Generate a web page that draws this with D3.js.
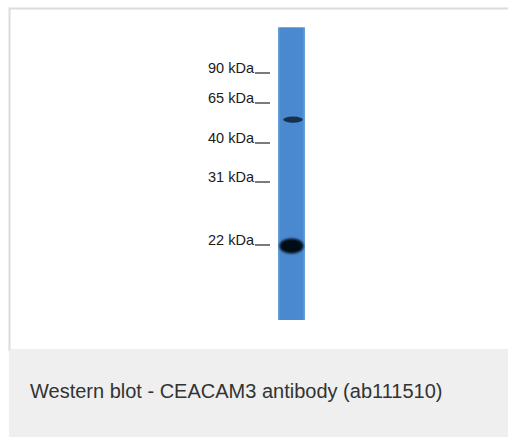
<!DOCTYPE html>
<html>
<head>
<meta charset="utf-8">
<script src="https://cdn.jsdelivr.net/npm/d3@7"></script>
<style>
  body { margin: 0; background: #fff; }
</style>
</head>
<body>
<script>
// marker ladder (kDa) and the label text shown next to each
var markers = [90, 65, 40, 31, 22];
var markerLabels = ["90 kDa", "65 kDa", "40 kDa", "31 kDa", "22 kDa"];
// bands seen in the lane: apparent size (kDa) and relative intensity
var bandKda = [50, 21.3];
var bandIntensity = [0.35, 1];
var caption = "Western blot - CEACAM3 antibody (ab111510)";

var width = 508, height = 437;

var svg = d3.select("body").append("svg")
    .attr("width", width)
    .attr("height", height);

// gel migration is not quite log-linear, so piecewise log scale through the ladder
var y = d3.scaleLog()
    .domain([90, 65, 40, 31, 22, 15])
    .range([68, 98, 138, 177, 240, 310]);

var defs = svg.append("defs");
var grad = defs.append("linearGradient").attr("id", "lane");
grad.append("stop").attr("offset", "0%").attr("stop-color", "#6aa3dc");
grad.append("stop").attr("offset", "10%").attr("stop-color", "#4a88cf");
grad.append("stop").attr("offset", "90%").attr("stop-color", "#4a88cf");
grad.append("stop").attr("offset", "100%").attr("stop-color", "#6aa3dc");

var blur = defs.selectAll("filter")
    .data([1, 0.6])
    .enter().append("filter")
    .attr("id", function (d, i) { return "blur" + i; })
    .attr("x", "-50%").attr("y", "-100%").attr("width", "200%").attr("height", "300%");
blur.append("feGaussianBlur").attr("stdDeviation", function (d) { return d; });

// frame + caption panel
svg.append("rect")
    .attr("x", 9.5).attr("y", 8.5)
    .attr("width", width).attr("height", 342)
    .attr("fill", "#fff").attr("stroke", "#dcdcdc").attr("stroke-width", 2);
svg.append("rect")
    .attr("x", 9).attr("y", 350)
    .attr("width", width).attr("height", height - 350)
    .attr("fill", "#eeefee");
svg.append("text")
    .attr("x", 30).attr("y", 398)
    .attr("font-family", "Liberation Sans, Arial, sans-serif")
    .attr("font-size", 20)
    .attr("fill", "#333")
    .text(caption);

// lane
var laneX = 278, laneW = 27;
svg.append("rect")
    .attr("x", laneX).attr("y", y(140))
    .attr("width", laneW).attr("height", y(14.2) - y(140))
    .attr("fill", "url(#lane)");

// marker labels with trailing tick line
var axis = svg.append("g");
axis.selectAll("text")
    .data(markers)
    .enter().append("text")
    .attr("x", 254)
    .attr("y", function (d) { return y(d) + 5; })
    .attr("text-anchor", "end")
    .attr("font-family", "Liberation Sans, Arial, sans-serif")
    .attr("font-size", 14.5)
    .attr("fill", "#1a1a1a")
    .text(function (d, i) { return markerLabels[i]; });
axis.selectAll("line")
    .data(markers)
    .enter().append("line")
    .attr("x1", 255).attr("x2", 270)
    .attr("y1", function (d) { return y(d) + 5; })
    .attr("y2", function (d) { return y(d) + 5; })
    .attr("stroke", "#333").attr("stroke-width", 1.3);

// bands
var bw = d3.scaleLinear().domain([0, 1]).range([17, 24]);
var bh = d3.scaleLinear().domain([0, 1]).range([1.4, 15]);
svg.selectAll("ellipse.band")
    .data(bandKda)
    .enter().append("ellipse")
    .attr("class", "band")
    .attr("cx", function (d, i) { return laneX + laneW / 2 + (bandIntensity[i] > 0.5 ? 0 : 1.5); })
    .attr("cy", function (d) { return y(d); })
    .attr("rx", function (d, i) { return bw(bandIntensity[i]) / 2; })
    .attr("ry", function (d, i) { return bh(bandIntensity[i]) / 2; })
    .attr("fill", function (d, i) { return bandIntensity[i] > 0.5 ? "#050d14" : "#15304c"; })
    .attr("filter", function (d, i) { return bandIntensity[i] > 0.5 ? "url(#blur0)" : "url(#blur1)"; });
</script>
</body>
</html>
